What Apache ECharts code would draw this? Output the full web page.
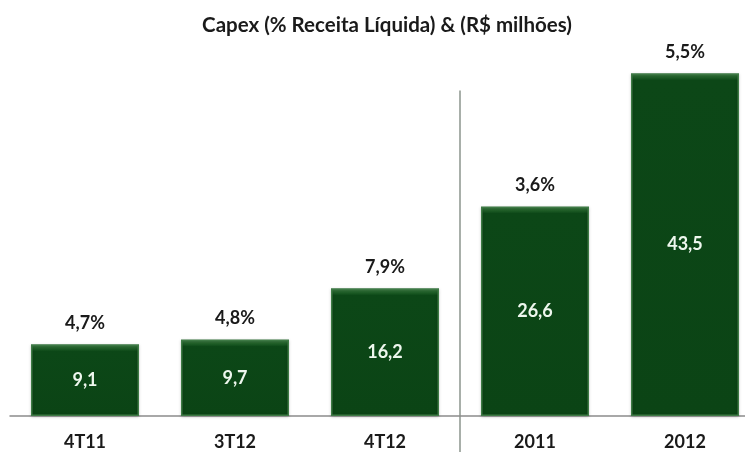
<!DOCTYPE html>
<html><head><meta charset="utf-8">
<script src="https://cdn.jsdelivr.net/npm/echarts@6/dist/echarts.min.js"></script>
<style>html,body{margin:0;padding:0;background:#fff;overflow:hidden;width:745px;height:452px}#c{width:760px;height:452px}</style>
</head><body><div id="c"></div>
<script>
const categories = ['4T11', '3T12', '4T12', '2011', '2012'];
const capexValues = [9.1, 9.7, 16.2, 26.6, 43.5];
const capexLabels = ['9,1', '9,7', '16,2', '26,6', '43,5'];
const percentLabels = ['4,7%', '4,8%', '7,9%', '3,6%', '5,5%'];

const font = 'Lato, "Open Sans", sans-serif';
const chart = echarts.init(document.getElementById('c'));
chart.setOption({
  animation: false,
  title: {
    text: 'Capex (% Receita Líquida) & (R$ milhões)',
    left: 382, top: 10, textAlign: 'center',
    textStyle: { fontFamily: font, fontWeight: 'bold', fontSize: 20.5, color: '#1a1a1a' }
  },
  grid: { left: 10, right: 0, top: 22, height: 394 },
  xAxis: {
    type: 'category', data: categories,
    axisLine: { lineStyle: { color: '#8c8c8c', width: 1.5 } },
    axisTick: { show: false },
    axisLabel: { margin: 17, fontFamily: font, fontWeight: 'bold', fontSize: 18, color: '#1a1a1a' }
  },
  yAxis: { type: 'value', min: 0, max: 50, show: false, splitLine: { show: false } },
  series: [
    {
      name: 'Capex', type: 'bar', data: capexValues, barWidth: 108,
      itemStyle: { color: '#0c4717', borderColor: '#3e7a45', borderWidth: 1.5, shadowColor: 'rgba(0,0,0,0.25)', shadowBlur: 3, shadowOffsetY: 1 },
      label: {
        show: true, position: 'inside',
        formatter: p => capexLabels[p.dataIndex],
        fontFamily: font, fontWeight: 'bold', fontSize: 18, color: '#eef7ee'
      }
    },
    {
      name: '% Receita', type: 'bar', data: capexValues, barWidth: 108, barGap: '-100%',
      itemStyle: { color: 'rgba(0,0,0,0)' }, silent: true,
      label: {
        show: true, position: 'top', distance: 12,
        formatter: p => percentLabels[p.dataIndex],
        fontFamily: font, fontWeight: 'bold', fontSize: 18, color: '#1a1a1a'
      }
    }
  ]
});
const y0 = chart.convertToPixel({ yAxisIndex: 0 }, 0);
const bevelData = capexValues.map(v => {
  const h = y0 - chart.convertToPixel({ yAxisIndex: 0 }, v);
  const f = 7 / h;
  return {
    value: v,
    itemStyle: {
      color: new echarts.graphic.LinearGradient(0, 0, 0, 1, [
        { offset: 0, color: '#4f8f56' },
        { offset: f * 0.5, color: '#24652c' },
        { offset: f, color: '#0c4717' },
        { offset: 1, color: '#0b4415' }
      ])
    }
  };
});
const x2 = chart.convertToPixel({ xAxisIndex: 0 }, 2);
const x3 = chart.convertToPixel({ xAxisIndex: 0 }, 3);
const sx = (x2 + x3) / 2;
const topY = chart.convertToPixel({ yAxisIndex: 0 }, 41.3);
chart.setOption({
  series: [{ data: bevelData }, {}],
  graphic: [{ type: 'line', shape: { x1: sx, y1: topY, x2: sx, y2: 452 }, style: { stroke: '#6e7a70', lineWidth: 1.2 } }]
});
</script></body></html>
